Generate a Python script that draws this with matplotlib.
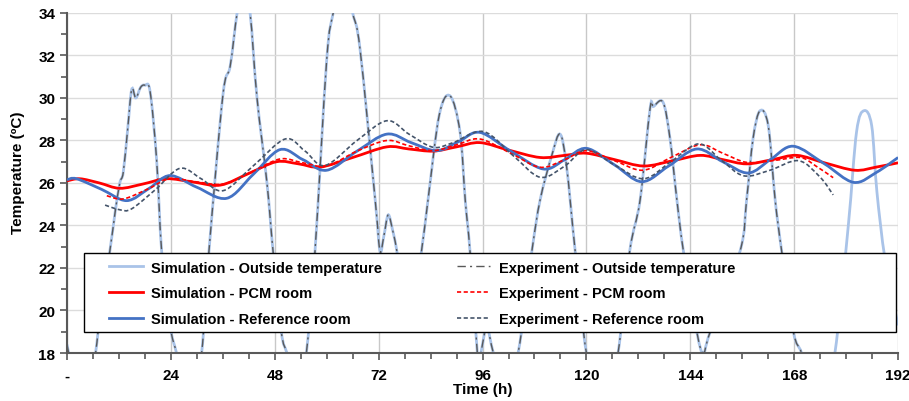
import matplotlib.pyplot as plt
import numpy as np
from matplotlib.path import Path
from matplotlib.patches import PathPatch, Rectangle
from matplotlib.ticker import MultipleLocator, FixedLocator

plt.rcParams['font.family'] = ['Liberation Sans', 'DejaVu Sans']
plt.rcParams['font.weight'] = 'bold'

# outside temperature (simulation runs to 192 h, experiment stops ~175 h)
out_t = [0, 1.5, 3.5, 5.5, 6.6, 8, 9.9, 11.1, 12.2, 13, 14, 14.95, 15.9, 17, 18, 19.2, 20.7, 21.9,
         23.8, 25.3, 27, 29, 31.1, 32.8, 36, 37.7, 39.3, 40.8, 42.3, 43.9, 46.2, 47.6, 49.5, 50.8,
         52.5, 54, 55.3, 57.3, 60, 61.5, 63.8, 66, 67.7, 71.2, 72.3, 73.2, 74.2, 75.2, 76.2, 78.5,
         80, 81.9, 83.4, 86, 88.5, 90.8, 92, 93.1, 94.8, 95.3, 95.8, 97, 98.5, 101, 104.2, 107.4,
         109.3, 112, 113.9, 115.4, 117.4, 120, 123, 125, 127.3, 130, 132.4, 134.7, 135.5, 137.7,
         139.3, 140.9, 142.4, 145.5, 147, 148.6, 155.5, 157, 158.5, 160.1, 162, 163.6, 165.1,
         167.8, 169.7, 172, 175, 177.4, 180.5, 182.4, 184.1, 185.9, 187.1, 189, 192]
out_sim = [18.4, 17.0, 16.3, 17.2, 18.0, 20.5, 22.8, 24.6, 26.0, 26.5, 28.5, 30.4, 30.0, 30.5, 30.6,
           30.3, 27.1, 22.7, 19.3, 18.0, 16.5, 16.2, 18.0, 22.8, 30.1, 31.5, 34.0, 35.5, 34.0, 30.0,
           26.0, 22.8, 19.0, 18.0, 16.8, 16.9, 18.0, 22.8, 31.8, 34.0, 36.0, 34.0, 32.3, 25.2, 22.8,
           23.5, 24.5, 23.8, 22.8, 19.8, 20.5, 22.8, 25.2, 29.2, 30.1, 28.4, 25.2, 22.8, 18.0, 17.6,
           18.2, 19.2, 18.0, 16.4, 18.0, 22.8, 25.2, 27.3, 28.3, 26.8, 22.8, 18.0, 16.2, 16.5, 18.0,
           22.8, 25.2, 29.5, 29.6, 29.8, 28.1, 25.2, 22.8, 19.0, 18.0, 19.0, 22.8, 25.2, 28.1, 29.4,
           28.7, 25.2, 22.8, 19.0, 18.0, 16.3, 16.5, 18.0, 24.0, 28.4, 29.4, 28.7, 25.6, 22.4, 19.3]
n_exp_out = 97  # experiment outside data ends at 175 h

# simulated rooms
sim_pcm_t = [0, 3, 7.5, 12.2, 17.5, 23, 29, 35.4, 42, 48.4, 53.5, 58.5, 66, 73.9, 79, 84.6, 90,
             95.4, 102, 109.3, 115, 120, 126.5, 133.2, 140, 146.3, 151.5, 157, 163, 168.6, 175,
             182, 187, 192]
sim_pcm = [26.1, 26.2, 26.0, 25.75, 25.95, 26.2, 26.05, 25.9, 26.45, 27.0, 26.9, 26.75, 27.2, 27.7,
           27.6, 27.5, 27.7, 27.9, 27.55, 27.2, 27.3, 27.4, 27.1, 26.8, 27.05, 27.3, 27.1, 26.9,
           27.1, 27.3, 26.95, 26.6, 26.75, 26.95]

sim_ref_t = [0, 2.2, 8, 13.8, 19, 23.8, 30, 36.9, 43, 49.2, 54.5, 60, 67, 73.9, 79.5, 85.4, 90.5,
             95.4, 102.5, 110, 115, 120, 126.5, 132.8, 139, 145.5, 151.5, 157.4, 162.5, 167.8, 175,
             181.7, 187, 192]
sim_ref = [26.15, 26.2, 25.7, 25.17, 25.75, 26.35, 25.8, 25.28, 26.4, 27.57, 27.1, 26.6, 27.5, 28.3,
           27.9, 27.52, 27.95, 28.38, 27.5, 26.66, 27.1, 27.63, 26.85, 26.06, 26.8, 27.6, 27.0,
           26.47, 27.1, 27.73, 26.9, 26.03, 26.5, 27.2]

# measured rooms
exp_pcm_t = [9.2, 13, 18.5, 23.8, 30, 36.1, 42.5, 49.2, 54.5, 60, 67, 73.9, 79, 84.6, 90, 95.4,
             102.5, 109.3, 115, 120, 126.5, 133, 139.5, 146.3, 151.5, 157, 163, 169.4, 173, 177]
exp_pcm = [25.4, 25.25, 25.7, 26.2, 26.05, 25.95, 26.5, 27.13, 26.95, 26.8, 27.5, 28.0, 27.75,
           27.52, 27.8, 28.07, 27.4, 26.74, 27.1, 27.52, 27.05, 26.6, 27.2, 27.8, 27.4, 26.97,
           27.05, 27.2, 26.8, 26.25]

exp_ref_t = [8.8, 12.2, 14.9, 20.5, 26.1, 31, 36.1, 43, 50.4, 55, 59.6, 67, 73.9, 79, 84.6, 89.2,
             96.2, 103, 109.3, 115, 120, 126.5, 133.2, 139.5, 145.9, 151, 156.3, 162.4, 169, 174, 177]
exp_ref = [24.96, 24.74, 24.78, 25.7, 26.69, 26.2, 25.64, 26.8, 28.07, 27.5, 26.82, 28.0, 28.93,
           28.3, 27.68, 27.9, 28.42, 27.3, 26.27, 26.8, 27.57, 26.85, 26.2, 27.0, 27.84, 27.1,
           26.34, 26.6, 27.05, 26.27, 25.44]

x_ticks = [0, 24, 48, 72, 96, 120, 144, 168, 192]
x_labels = ['-', '24', '48', '72', '96', '120', '144', '168', '192']


def smooth_line(ax, x, y, **kw):
    # spreadsheet-style smoothed line: bezier segments through the data points
    p = np.column_stack([x, y]).astype(float)
    ext = np.vstack([p[0], p, p[-1]])
    verts = [p[0]]
    codes = [Path.MOVETO]
    for i in range(len(p) - 1):
        c1 = ext[i + 1] + (ext[i + 2] - ext[i]) / 6
        c2 = ext[i + 2] - (ext[i + 3] - ext[i + 1]) / 6
        verts += [c1, c2, p[i + 1]]
        codes += [Path.CURVE4] * 3
    patch = PathPatch(Path(verts, codes), facecolor='none', **kw)
    ax.add_patch(patch)
    return patch


fig = plt.figure(figsize=(9.09, 4.02), dpi=100)
ax = fig.add_axes([0.0737, 0.1194, 0.9143, 0.8458])

series = [
    (out_t, out_sim, dict(edgecolor='#a9c3e8', lw=2, zorder=2), 'Simulation - Outside temperature'),
    (sim_pcm_t, sim_pcm, dict(edgecolor='#ff0000', lw=2, zorder=4), 'Simulation - PCM room'),
    (sim_ref_t, sim_ref, dict(edgecolor='#4472c4', lw=2, zorder=4), 'Simulation - Reference room'),
    (out_t[:n_exp_out], out_sim[:n_exp_out],
     dict(edgecolor='#595959', lw=1, ls=(0, (6, 3, 1.5, 3)), zorder=3), 'Experiment - Outside temperature'),
    (exp_pcm_t, exp_pcm, dict(edgecolor='#ff0000', lw=1.2, ls=(0, (2.5, 1.5)), zorder=5),
     'Experiment - PCM room'),
    (exp_ref_t, exp_ref, dict(edgecolor='#44546a', lw=1.2, ls=(0, (2.5, 1.5)), zorder=5),
     'Experiment - Reference room'),
]
for xs, ys, kw, lab in series:
    smooth_line(ax, xs, ys, **kw)
    ax.plot([], [], color=kw['edgecolor'], lw=kw['lw'], ls=kw.get('ls', '-'), label=lab)

ax.set_xlim(0, 192)
ax.set_ylim(18, 34)
ax.xaxis.set_major_locator(FixedLocator(x_ticks))
ax.set_xticklabels(x_labels)
ax.xaxis.set_minor_locator(MultipleLocator(6))
ax.yaxis.set_major_locator(MultipleLocator(2))
ax.yaxis.set_minor_locator(MultipleLocator(1))
ax.grid(True, axis='x', which='major', color='#c8c8c8', lw=1, zorder=0)
ax.grid(True, axis='y', which='major', color='#dcdcdc', lw=1, zorder=0)
ax.set_axisbelow(True)
for s in ['top', 'right']:
    ax.spines[s].set_visible(False)
for s in ['left', 'bottom']:
    ax.spines[s].set_color('#595959')
    ax.spines[s].set_linewidth(1.5)
ax.tick_params(which='both', direction='out', color='#595959', width=1.2, labelsize=11)
ax.tick_params(which='major', length=5)
ax.tick_params(which='minor', length=4)
ax.tick_params(axis='x', pad=6)
ax.set_xlabel('Time (h)', fontsize=11, fontweight='bold', labelpad=0)
ax.set_ylabel('Temperature (ºC)', fontsize=11, fontweight='bold')
ax.yaxis.set_label_coords(-0.051, 0.532)

# legend box is wider than its contents
ax.add_patch(Rectangle((0.0208, 0.062), 0.977, 0.232, transform=ax.transAxes,
                       facecolor='white', edgecolor='black', lw=1, zorder=9))
leg = ax.legend(ncol=2, loc='upper left', bbox_to_anchor=(0.0505, 0.272), borderaxespad=0,
                borderpad=0, fontsize=10.5, frameon=False, handlelength=2.3,
                handletextpad=0.6, labelspacing=0.8, columnspacing=5.1)
leg.set_zorder(10)

fig.savefig('out.png', dpi=100)
